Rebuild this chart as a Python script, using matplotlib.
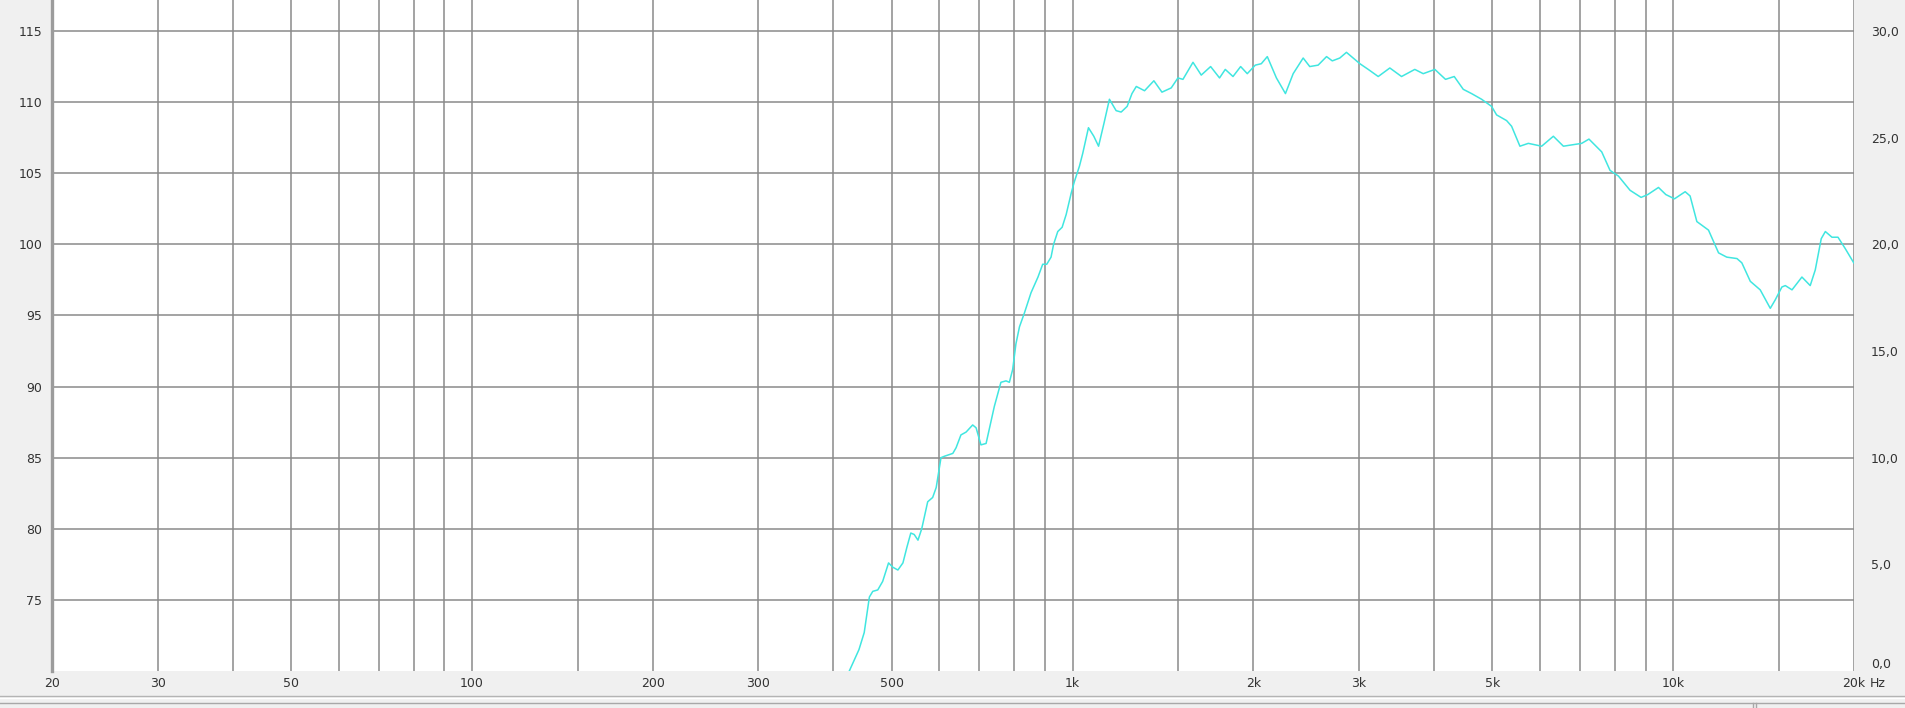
"""Frequency response plot, measurement-software look."""
import matplotlib
matplotlib.use("Agg")
import matplotlib.pyplot as plt
from matplotlib.lines import Line2D

# colours
C_BG = "#F0F0F0"
C_GRID = "#8A8A8A"
C_SPINE = "#9C9C9C"
C_CURVE = "#40E6E0"
C_TEXT = "#333333"

# data (Hz, dB SPL)
freq_hz = [
    425, 441, 450, 459, 465, 474, 483, 494, 502, 512, 522, 530, 538, 545, 553,
    561, 574, 585, 593, 604, 612, 632, 640, 652, 665, 682, 691, 704, 718, 741,
    760, 775, 785, 795, 805, 816, 832, 853, 876, 892, 906, 921, 930, 945, 961,
    976, 995, 1007, 1027, 1040, 1063, 1085, 1105, 1128, 1152, 1182, 1205, 1233,
    1256, 1277, 1318, 1366, 1409, 1460, 1498, 1527, 1587, 1638, 1698, 1757,
    1796, 1850, 1905, 1954, 2015, 2062, 2110, 2185, 2262, 2330, 2421, 2483,
    2564, 2648, 2707, 2786, 2858, 2933, 3009, 3107, 3228, 3375, 3530, 3714,
    3836, 4011, 4178, 4320, 4472, 4617, 4798, 4985, 5082, 5281, 5383, 5557,
    5739, 6040, 6317, 6565, 7042, 7241, 7604, 7850, 8107, 8476, 8842, 9073,
    9452, 9722, 10050, 10470, 10670, 10950, 11450, 11900, 12280, 12770, 13010,
    13440, 13960, 14510, 14790, 15170, 15370, 15770, 16380, 16910, 17240,
    17640, 17920, 18380, 18810, 19340, 19980,
]
level_db = [
    70.0, 71.5, 72.7, 75.2, 75.6, 75.7, 76.3, 77.6, 77.3, 77.1, 77.6, 78.7,
    79.7, 79.6, 79.2, 80.0, 81.9, 82.2, 82.9, 85.0, 85.1, 85.3, 85.7, 86.6,
    86.8, 87.3, 87.1, 85.9, 86.0, 88.6, 90.3, 90.4, 90.3, 91.2, 93.0, 94.2,
    95.2, 96.6, 97.7, 98.6, 98.6, 99.1, 100.0, 100.9, 101.2, 102.1, 103.6,
    104.4, 105.5, 106.4, 108.2, 107.6, 106.9, 108.5, 110.2, 109.4, 109.3,
    109.7, 110.6, 111.1, 110.8, 111.5, 110.7, 111.0, 111.7, 111.6, 112.8,
    111.9, 112.5, 111.7, 112.3, 111.8, 112.5, 112.0, 112.6, 112.7, 113.2,
    111.7, 110.6, 112.0, 113.1, 112.5, 112.6, 113.2, 112.9, 113.1, 113.5,
    113.1, 112.7, 112.3, 111.8, 112.4, 111.8, 112.3, 112.0, 112.3, 111.6,
    111.8, 110.9, 110.6, 110.2, 109.7, 109.1, 108.7, 108.3, 106.9, 107.1,
    106.9, 107.6, 106.9, 107.1, 107.4, 106.5, 105.2, 104.8, 103.8, 103.3,
    103.5, 104.0, 103.5, 103.2, 103.7, 103.4, 101.6, 101.0, 99.4, 99.1, 99.0,
    98.7, 97.4, 96.8, 95.5, 96.1, 97.0, 97.1, 96.8, 97.7, 97.1, 98.2, 100.4,
    100.9, 100.5, 100.5, 99.7, 98.7,
]

# axis ticks
x_major = [20, 30, 50, 100, 200, 300, 500, 1000, 2000, 3000, 5000, 10000, 20000]
x_major_labels = ["20", "30", "50", "100", "200", "300", "500",
                  "1k", "2k", "3k", "5k", "10k", "20k"]
x_minor = [40, 60, 70, 80, 90, 150, 400, 600, 700, 800, 900,
           1500, 4000, 6000, 7000, 8000, 9000, 15000]
y_left = [75, 80, 85, 90, 95, 100, 105, 110, 115]
y_right = [0, 5, 10, 15, 20, 25, 30]
y_right_labels = ["0,0", "5,0", "10,0", "15,0", "20,0", "25,0", "30,0"]

W, H = 1905, 708
fig = plt.figure(figsize=(W / 100, H / 100), dpi=100, facecolor=C_BG)
ax = fig.add_axes([52 / W, 37 / H, 1802 / W, 671 / H])
ax.set_facecolor("white")

ax.set_xscale("log")
ax.set_xlim(20, 20000)
ax.set_ylim(70, 117.18)

ax.set_xticks(x_major, x_major_labels)
ax.set_xticks(x_minor, minor=True)
ax.set_xticklabels([], minor=True)
ax.set_yticks(y_left, [str(v) for v in y_left])

ax.grid(True, which="both", axis="x", color=C_GRID, linewidth=1.1)
ax.grid(True, which="major", axis="y", color=C_GRID, linewidth=1.1)
ax.set_axisbelow(True)

ax.tick_params(axis="both", which="both", length=0, labelsize=9,
               colors=C_TEXT)
ax.tick_params(axis="x", pad=4)
ax.tick_params(axis="y", pad=7)

for side in ("top", "right", "bottom"):
    ax.spines[side].set_visible(False)
ax.spines["left"].set_color(C_SPINE)
ax.spines["left"].set_linewidth(2.4)

ax.plot(freq_hz, level_db, color=C_CURVE, linewidth=1.1, zorder=3)

# "Hz" after the last tick label
ax.annotate("Hz", xy=(20000, 0), xycoords=("data", "axes fraction"),
            xytext=(11, -4), textcoords="offset points",
            ha="left", va="top", fontsize=9, color=C_TEXT,
            annotation_clip=False)

# right scale
ax2 = ax.twinx()
ax2.set_ylim(0, 31.45)
ax2.set_yticks(y_right, y_right_labels)
ax2.tick_params(axis="y", length=0, pad=12, labelsize=9, colors=C_TEXT)
for spine in ax2.spines.values():
    spine.set_visible(False)
ax2.get_yticklabels()[0].set_va("bottom")

# status bar edge at the bottom
fig.add_artist(Line2D([0, 1], [1 - 696 / H] * 2, color="#B4B4B4",
                      linewidth=1.0, transform=fig.transFigure))
fig.add_artist(Line2D([0, 1], [1 - 698 / H] * 2, color="white",
                      linewidth=1.0, transform=fig.transFigure))
fig.add_artist(Line2D([0, 1], [1 - 703 / H] * 2, color="#A8A8A8",
                      linewidth=1.0, transform=fig.transFigure))
fig.add_artist(Line2D([1753 / W] * 2, [0, 1 - 703 / H], color="#A8A8A8",
                      linewidth=1.0, transform=fig.transFigure))
fig.add_artist(Line2D([1756 / W] * 2, [0, 1 - 703 / H], color="#A8A8A8",
                      linewidth=1.0, transform=fig.transFigure))

fig.savefig("out.png", dpi=100, facecolor=C_BG)
plt.close(fig)
